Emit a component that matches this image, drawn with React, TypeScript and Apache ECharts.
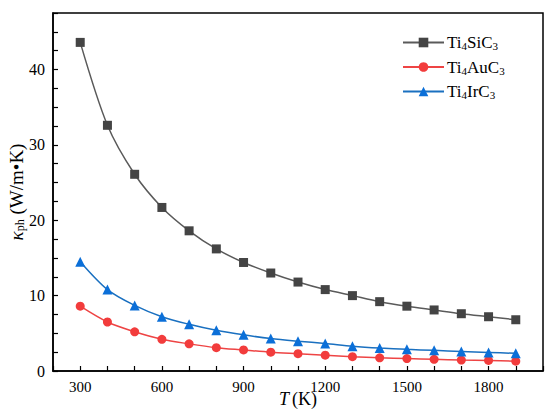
import React, { useEffect, useRef } from "react";
import * as echarts from "echarts";

const temperatures = [300, 400, 500, 600, 700, 800, 900, 1000, 1100, 1200, 1300, 1400, 1500, 1600, 1700, 1800, 1900];
const ti4SiC3 = [43.6, 32.6, 26.1, 21.7, 18.6, 16.2, 14.4, 13.0, 11.8, 10.8, 10.0, 9.2, 8.6, 8.1, 7.6, 7.2, 6.8];
const ti4AuC3 = [8.6, 6.5, 5.2, 4.2, 3.6, 3.1, 2.8, 2.5, 2.3, 2.1, 1.9, 1.75, 1.65, 1.55, 1.45, 1.4, 1.3];
const ti4IrC3 = [14.5, 10.8, 8.7, 7.2, 6.2, 5.4, 4.8, 4.3, 3.95, 3.65, 3.3, 3.05, 2.87, 2.74, 2.6, 2.47, 2.34];

const seriesNames = ["Ti4SiC3", "Ti4AuC3", "Ti4IrC3"];
const legendRich: Record<string, string> = {
  Ti4SiC3: "{a|Ti}{s|4}{a|SiC}{s|3}",
  Ti4AuC3: "{a|Ti}{s|4}{a|AuC}{s|3}",
  Ti4IrC3: "{a|Ti}{s|4}{a|IrC}{s|3}",
};

const FONT = "'Liberation Serif', 'Times New Roman', serif";

export default function App() {
  const ref = useRef<HTMLDivElement>(null);
  useEffect(() => {
    if (!ref.current) return;
    const chart = echarts.init(ref.current, undefined, { renderer: "svg" });
    const pair = (ys: number[]) => temperatures.map((t, i) => [t, ys[i]]);
    chart.setOption({
      animation: false,
      backgroundColor: "#fff",
      textStyle: { fontFamily: FONT, color: "#000" },
      grid: {
        left: 53,
        top: 13,
        right: 7,
        bottom: 48,
        outerBoundsMode: "none",
        containLabel: false,
        show: true,
        borderColor: "#000",
        borderWidth: 1.5,
        backgroundColor: "transparent",
      },
      legend: {
        orient: "vertical",
        left: 397,
        top: 29,
        itemWidth: 41,
        itemHeight: 12,
        itemGap: 7,
        data: seriesNames,
        formatter: (name: string) => legendRich[name],
        textStyle: {
          fontFamily: FONT,
          color: "#000",
          padding: [0, 0, 0, -2],
          rich: {
            a: { fontSize: 17, fontFamily: FONT, color: "#000", lineHeight: 18 },
            s: { fontSize: 11, fontFamily: FONT, color: "#000", verticalAlign: "bottom", lineHeight: 11 },
          },
        },
      },
      xAxis: {
        type: "value",
        min: 200,
        max: 2000,
        interval: 100,
        name: "{i|T} {n|(K)}",
        nameLocation: "middle",
        nameGap: 19,
        nameMoveOverlap: false,
        nameTextStyle: {
          rich: {
            i: { fontSize: 18, fontStyle: "italic", fontFamily: FONT, color: "#000" },
            n: { fontSize: 18, fontFamily: FONT, color: "#000" },
          },
        },
        axisLine: { show: true, lineStyle: { color: "#000", width: 1.5 } },
        axisTick: { show: true, inside: true, length: 5, lineStyle: { color: "#000", width: 1.2 } },
        axisLabel: {
          fontSize: 15,
          fontFamily: FONT,
          color: "#000",
          margin: 8,
          formatter: (v: number) => (v % 300 === 0 ? String(v) : ""),
        },
        splitLine: { show: false },
      },
      yAxis: {
        type: "value",
        min: 0,
        max: 47.5,
        interval: 2.5,
        name: "{k|κ}{s|ph}{n| (W/m•K)}",
        nameLocation: "middle",
        nameRotate: 90,
        nameGap: 27,
        nameMoveOverlap: false,
        nameTextStyle: {
          rich: {
            k: { fontSize: 19, fontStyle: "italic", fontFamily: FONT, color: "#000", lineHeight: 20 },
            s: { fontSize: 12, fontFamily: FONT, color: "#000", verticalAlign: "bottom", lineHeight: 11 },
            n: { fontSize: 19, fontFamily: FONT, color: "#000", lineHeight: 20 },
          },
        },
        axisLine: { show: true, lineStyle: { color: "#000", width: 1.5 } },
        axisTick: { show: true, inside: true, length: 5, lineStyle: { color: "#000", width: 1.2 } },
        axisLabel: {
          fontSize: 16,
          fontFamily: FONT,
          color: "#000",
          margin: 8,
          formatter: (v: number) => (v % 10 === 0 ? String(v) : ""),
        },
        splitLine: { show: false },
      },
      series: [
        {
          name: seriesNames[0],
          type: "line",
          smooth: 0.3,
          data: pair(ti4SiC3),
          symbol: "rect",
          symbolSize: 9,
          lineStyle: { color: "#5a5a5a", width: 1.5 },
          itemStyle: { color: "#444444" },
        },
        {
          name: seriesNames[1],
          type: "line",
          smooth: 0.3,
          data: pair(ti4AuC3),
          symbol: "circle",
          symbolSize: 9,
          lineStyle: { color: "#ee4444", width: 1.5 },
          itemStyle: { color: "#f23c3c" },
        },
        {
          name: seriesNames[2],
          type: "line",
          smooth: 0.3,
          data: pair(ti4IrC3),
          symbol: "triangle",
          symbolSize: 10,
          lineStyle: { color: "#1a70c0", width: 1.5 },
          itemStyle: { color: "#0b6fd8" },
        },
      ],
    });
    return () => chart.dispose();
  }, []);
  return (
    <div
      ref={ref}
      style={{ position: "fixed", left: 0, top: 0, width: 550, height: 419, background: "#fff" }}
    />
  );
}
